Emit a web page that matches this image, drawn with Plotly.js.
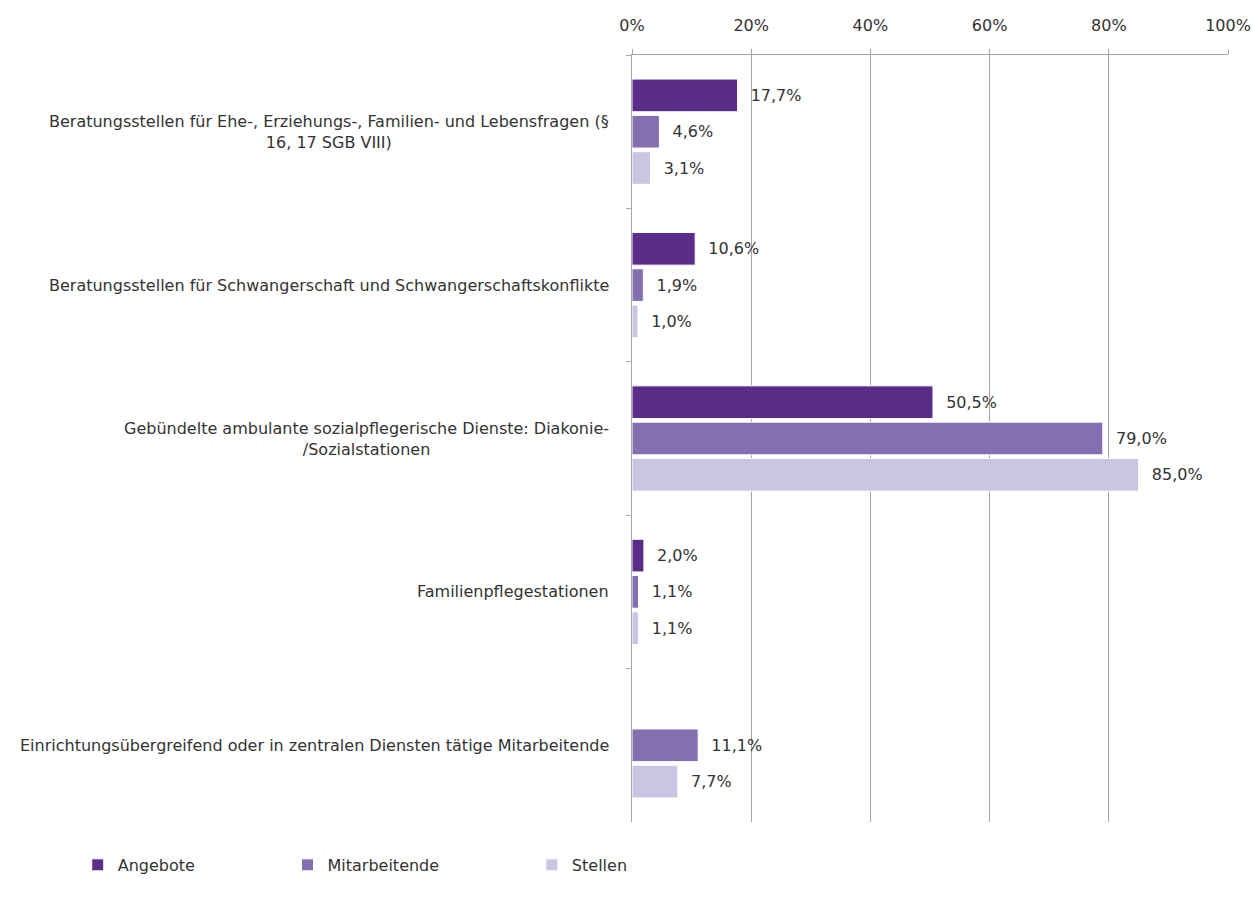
<!DOCTYPE html>
<html>
<head>
<meta charset="utf-8">
<script src="https://cdn.plot.ly/plotly-3.0.1.min.js"></script>
<style>html,body{margin:0;padding:0;background:#fff;}#chart{width:1253px;height:901px;}</style>
</head>
<body>
<div id="chart"></div>
<script>
var categories = [
  "Beratungsstellen für Ehe-, Erziehungs-, Familien- und Lebensfragen (§<br>16, 17 SGB VIII)",
  "Beratungsstellen für Schwangerschaft und Schwangerschaftskonflikte",
  "Gebündelte ambulante sozialpflegerische Dienste: Diakonie-<br>/Sozialstationen",
  "Familienpflegestationen",
  "Einrichtungsübergreifend oder in zentralen Diensten tätige Mitarbeitende"
];
var seriesNames = ["Angebote", "Mitarbeitende", "Stellen"];
var angebote = [17.7, 10.6, 50.5, 2.0, null];
var mitarbeitende = [4.6, 1.9, 79.0, 1.1, 11.1];
var stellen = [3.1, 1.0, 85.0, 1.1, 7.7];
var xTicks = [0, 20, 40, 60, 80, 100];

var colors = ["#5c2d88", "#8470b1", "#cbc4e2"];
var allValues = [angebote, mitarbeitende, stellen];
var FONT = "DejaVu Sans, sans-serif";
var NB = "\u00a0\u00a0";

function fmt(v) { return v == null ? "" : NB + v.toFixed(1).replace(".", ",") + "%"; }

var traces = allValues.map(function (vals, i) {
  return {
    type: "bar",
    orientation: "h",
    name: seriesNames[i],
    y: categories,
    x: vals,
    text: vals.map(fmt),
    textposition: "outside",
    constraintext: "none",
    cliponaxis: false,
    textfont: {family: FONT, size: 16, color: "#333"},
    marker: {color: colors[i], line: {color: "#ffffff", width: 1}},
    hoverinfo: "skip",
    legend: i === 0 ? "legend" : (i === 1 ? "legend2" : "legend3")
  };
});

var annotations = categories.map(function (c) {
  return {
    xref: "paper", yref: "y", x: 0, y: c, xshift: -21,
    xanchor: "right", yanchor: "middle", align: "center",
    text: c, showarrow: false,
    font: {family: FONT, size: 16, color: "#333"}
  };
});

function leg(x) {
  return {
    orientation: "h", x: x, y: -0.056, xanchor: "left", yanchor: "middle",
    font: {family: FONT, size: 16, color: "#333"},
    bgcolor: "rgba(0,0,0,0)", borderwidth: 0
  };
}

var layout = {
  width: 1253, height: 901,
  margin: {l: 632, r: 25, t: 55, b: 79},
  paper_bgcolor: "#ffffff", plot_bgcolor: "#ffffff",
  barmode: "group",
  bargap: 0.29,
  bargroupgap: 0.1,
  font: {family: FONT, size: 16, color: "#333"},
  showlegend: true,
  legend: leg(-0.93),
  legend2: leg(-0.578),
  legend3: leg(-0.168),
  xaxis: {
    side: "top", range: [0, 100], tickvals: xTicks, ticktext: xTicks.map(function (t) { return t + "%"; }),
    showgrid: true, gridcolor: "#a6a6a6", gridwidth: 1,
    showline: true, linecolor: "#a6a6a6", linewidth: 1,
    ticks: "outside", ticklen: 5, tickcolor: "#a6a6a6",
    tickfont: {family: FONT, size: 16, color: "#333"},
    ticklabelstandoff: 12,
    zeroline: false, fixedrange: true
  },
  yaxis: {
    type: "category", autorange: "reversed",
    showticklabels: false, tickson: "boundaries",
    ticks: "outside", ticklen: 5, tickcolor: "#a6a6a6",
    showline: true, linecolor: "#a6a6a6", linewidth: 1,
    showgrid: false, zeroline: false, fixedrange: true
  },
  annotations: annotations
};

Plotly.newPlot("chart", traces, layout, {displayModeBar: false, staticPlot: true});
</script>
</body>
</html>
